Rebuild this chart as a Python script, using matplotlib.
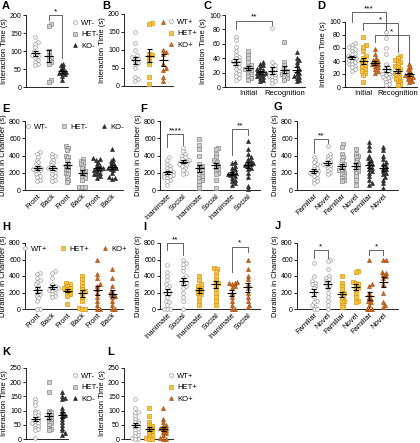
import numpy as np
import matplotlib
matplotlib.use("Agg")
import matplotlib.pyplot as plt
from matplotlib.lines import Line2D

plt.rcParams['font.family'] = ['Liberation Sans', 'DejaVu Sans']

W, H = 420, 443

# ---- data ----
a_wt = [140, 125, 120, 110, 100, 95, 90, 88, 85, 80, 75, 70, 65, 60]
a_het = [175, 170, 100, 85, 80, 75, 70, 65, 20, 15]
a_ko = [65, 60, 55, 50, 45, 42, 40, 38, 35, 30, 20]

b_wt = [150, 120, 100, 85, 80, 78, 75, 70, 65, 60, 50, 25, 20, 15]
b_het = [175, 172, 90, 85, 80, 70, 60, 25, 5]
b_ko = [178, 100, 95, 90, 60, 50, 45, 25, 15]

c_groups = ['WT-', 'HET-', 'KO-', 'WT-', 'HET-', 'KO-']
c_vals = [
    [70, 65, 55, 50, 45, 42, 40, 38, 36, 35, 33, 30, 28, 25, 22, 20, 18, 15, 12, 10],
    [50, 45, 40, 35, 30, 28, 26, 25, 24, 22, 20, 18, 15, 12, 10],
    [35, 32, 30, 28, 25, 23, 22, 20, 20, 18, 17, 15, 14, 12, 10, 8],
    [82, 35, 30, 28, 25, 22, 20, 18, 17, 15, 14, 12, 10, 8, 6],
    [62, 35, 30, 25, 22, 20, 18, 17, 15, 12, 10],
    [48, 40, 38, 35, 30, 25, 22, 20, 18, 15, 14, 12, 10, 8],
]

d_groups = ['WT+', 'HET+', 'KO+', 'WT+', 'HET+', 'KO+']
d_vals = [
    [68, 65, 62, 60, 58, 55, 52, 50, 48, 46, 45, 44, 42, 40, 38, 36, 35, 33, 30, 28, 25],
    [77, 65, 62, 55, 48, 45, 40, 38, 35, 33, 30, 28, 25, 22, 18, 8],
    [58, 50, 45, 42, 40, 38, 36, 35, 33, 30, 28, 25, 22],
    [85, 75, 60, 50, 35, 30, 28, 25, 23, 22, 20, 20, 18, 16, 15, 14, 12, 10, 8, 5, 3],
    [48, 45, 42, 40, 38, 35, 32, 30, 28, 25, 22, 20, 18, 15, 12, 10, 8, 5, 3],
    [35, 30, 28, 25, 22, 20, 18, 17, 15, 14, 12, 10, 8],
]

minus_groups = ['WT-', 'WT-', 'HET-', 'HET-', 'KO-', 'KO-']
plus_groups = ['WT+', 'WT+', 'HET+', 'HET+', 'KO+', 'KO+']
fb_labels = ['Front', 'Back', 'Front', 'Back', 'Front', 'Back']
is_labels = ['Inanimate', 'Social', 'Inanimate', 'Social', 'Inanimate', 'Social']
fn_labels = ['Familiar', 'Novel', 'Familiar', 'Novel', 'Familiar', 'Novel']

e_vals = [
    [440, 420, 380, 350, 320, 300, 280, 260, 250, 240, 230, 220, 200, 180, 160, 150, 120, 100],
    [420, 400, 380, 350, 330, 310, 290, 270, 260, 250, 240, 220, 200, 180, 160, 140, 120, 100],
    [510, 490, 460, 400, 380, 350, 300, 280, 260, 240, 220, 200, 180, 150, 120, 90],
    [360, 340, 320, 300, 280, 250, 220, 200, 180, 160, 140, 120, 40, 30, 30],
    [370, 360, 350, 330, 300, 280, 260, 250, 240, 230, 220, 200, 190, 180, 160, 140],
    [480, 360, 340, 320, 300, 280, 270, 260, 250, 240, 230, 200, 150, 140, 130],
]
f_vals = [
    [380, 350, 300, 280, 260, 240, 220, 210, 200, 190, 180, 170, 160, 150, 140, 120, 100, 60],
    [490, 450, 420, 400, 380, 360, 350, 340, 330, 320, 310, 300, 290, 280, 260, 230, 200, 180],
    [590, 520, 480, 400, 300, 280, 260, 240, 220, 200, 180, 160, 140, 120, 100, 60, 20],
    [490, 480, 420, 380, 350, 330, 300, 280, 260, 240, 220, 200, 180, 120, 20],
    [330, 310, 280, 260, 240, 220, 200, 190, 180, 170, 160, 140, 120, 100, 80, 60],
    [570, 480, 420, 380, 360, 340, 320, 310, 300, 290, 280, 260, 240, 200, 150, 50, 10],
]
g_vals = [
    [380, 350, 320, 300, 280, 260, 240, 220, 210, 200, 190, 180, 160, 140, 120, 100, 80],
    [510, 420, 400, 380, 360, 340, 320, 300, 290, 280, 260, 240, 220, 200, 180],
    [530, 500, 420, 380, 350, 300, 280, 250, 230, 220, 200, 180, 160, 140, 120, 100],
    [470, 420, 400, 380, 350, 320, 300, 280, 260, 240, 220, 200, 160, 120, 60],
    [560, 510, 460, 400, 370, 350, 320, 300, 280, 260, 240, 220, 200, 160, 120, 80, 60],
    [500, 460, 400, 360, 320, 300, 280, 260, 240, 220, 200, 180, 150, 120, 80, 20],
]
h_vals = [
    [440, 420, 380, 350, 330, 300, 280, 250, 220, 200, 180, 160, 130, 100, 0, 0],
    [460, 440, 370, 300, 280, 260, 250, 240, 230, 220, 200, 180, 160, 140],
    [310, 300, 280, 260, 250, 240, 220, 200, 180, 160, 60],
    [400, 360, 320, 280, 240, 220, 200, 150, 100, 10, 0, 0],
    [590, 420, 380, 300, 280, 240, 200, 150, 100, 50, 0, 0],
    [480, 380, 280, 220, 200, 180, 160, 150, 100, 50, 0, 0],
]
i_vals = [
    [530, 450, 400, 350, 300, 280, 250, 220, 200, 180, 150, 100, 80, 50, 0, 0, 0],
    [590, 560, 540, 500, 460, 400, 380, 340, 320, 300, 280, 260, 200, 150, 100, 0],
    [400, 350, 300, 280, 260, 240, 220, 200, 180, 150, 100, 50],
    [500, 490, 460, 400, 350, 320, 300, 260, 200, 150, 100, 50],
    [330, 320, 310, 300, 280, 260, 200, 150, 100, 50, 0, 0],
    [600, 480, 400, 360, 300, 250, 200, 150, 100, 50, 20],
]
j_vals = [
    [560, 400, 340, 320, 300, 280, 250, 200, 150, 100, 80, 50, 30, 0, 0],
    [590, 580, 490, 400, 380, 360, 340, 320, 300, 280, 250, 200, 150, 100, 50, 0],
    [400, 320, 280, 240, 200, 180, 150, 120, 100, 80, 50, 20],
    [460, 450, 330, 320, 300, 280, 250, 240, 200, 150, 100, 80],
    [600, 300, 280, 200, 150, 120, 100, 80, 50, 0, 0, 0],
    [600, 600, 450, 440, 420, 400, 380, 300, 200, 80, 50, 20],
]

k_wt = [140, 130, 120, 100, 95, 90, 85, 80, 75, 70, 65, 60, 58, 55, 50, 45, 40, 35, 30, 5]
k_het = [200, 165, 100, 95, 90, 85, 80, 75, 70, 65, 60, 55, 50, 40, 35, 30]
k_ko = [165, 150, 145, 140, 110, 100, 90, 85, 80, 70, 60, 50, 40, 30, 20, 15]

l_wt = [140, 110, 95, 90, 80, 70, 65, 60, 55, 50, 45, 40, 35, 30, 25, 20, 15, 10, 5, 0, 0]
l_het = [110, 80, 60, 50, 45, 40, 35, 30, 25, 20, 15, 10, 5, 0, 0]
l_ko = [110, 70, 60, 50, 45, 40, 38, 35, 30, 25, 20, 15, 5, 0, 0]

STY = {
    'WT-': ('o', 'white', '#9a9a9a'),
    'HET-': ('s', '#cdcdcd', '#8a8a8a'),
    'KO-': ('^', '#2e2e2e', '#2e2e2e'),
    'WT+': ('o', 'white', '#9a9a9a'),
    'HET+': ('s', '#f6c244', '#d69a16'),
    'KO+': ('^', '#d4691c', '#a3500f'),
}

fig = plt.figure(figsize=(W / 100, H / 100), dpi=100)


def make_ax(l, t, r, b, xlim, ylim, yticks, ylabel):
    ax = fig.add_axes([l / W, 1 - b / H, (r - l) / W, (b - t) / H])
    ax.set_xlim(*xlim)
    ax.set_ylim(*ylim)
    ax.set_yticks(yticks)
    for s in ['top', 'right']:
        ax.spines[s].set_visible(False)
    for s in ['left', 'bottom']:
        ax.spines[s].set_linewidth(0.6)
    ax.tick_params(length=2, width=0.6, labelsize=5, pad=1)
    ax.set_xticks([])
    ax.set_ylabel(ylabel, fontsize=5.5, labelpad=1.5)
    sx = (r - l) / (xlim[1] - xlim[0])
    sy = (b - t) / (ylim[1] - ylim[0])
    return ax, sx, sy


def swarm(v, xu, yu, kmax=4):
    order = np.argsort(v)
    off = np.zeros(len(v))
    placed = []
    steps = [0]
    for k in range(1, kmax + 1):
        steps += [k, -k]
    for i in order:
        best = None
        for k in steps:
            x = k * 0.5 * xu
            if all(((x - px) / xu) ** 2 + ((v[i] - py) / yu) ** 2 >= 1 for px, py in placed):
                best = x
                break
        if best is None:
            best = steps[len(placed) % len(steps)] * 0.5 * xu
        off[i] = best
        placed.append((best, v[i]))
    return off


def group(ax, x, vals, key, sx, sy):
    v = np.array(vals, float)
    off = swarm(v, 2.8 / sx, 2.8 / sy)
    mk, fc, ec = STY[key]
    ax.scatter(x + off, v, s=8 if mk == '^' else 7, marker=mk, facecolors=fc,
               edgecolors=ec, linewidths=0.5, zorder=3, clip_on=False)
    m = v.mean()
    se = v.std(ddof=1) / np.sqrt(len(v))
    hw, cw = 4.5 / sx, 2.5 / sx
    kw = dict(color='black', lw=0.8, zorder=5, solid_capstyle='butt')
    ax.plot([x - hw, x + hw], [m, m], **kw)
    ax.plot([x, x], [m - se, m + se], **kw)
    ax.plot([x - cw, x + cw], [m + se, m + se], **kw)
    ax.plot([x - cw, x + cw], [m - se, m - se], **kw)


def bracket(ax, x1, x2, ytop, y1, y2, txt):
    ax.plot([x1, x1, x2, x2], [y1, ytop, ytop, y2], color='#4a4a4a', lw=0.6,
            clip_on=False, zorder=6)
    ax.text((x1 + x2) / 2, ytop, txt, ha='center', va='bottom', fontsize=6)


def handles(keys):
    hs = []
    for k in keys:
        mk, fc, ec = STY[k]
        hs.append(Line2D([], [], marker=mk, ls='none', mfc=fc, mec=ec, ms=2.8, mew=0.5, label=k))
    return hs


def side_legend(ax, keys, xa=0.98):
    ax.legend(handles=handles(keys), loc='upper left', bbox_to_anchor=(xa, 1.0),
              frameon=False, fontsize=5.5, labelspacing=0.55, handletextpad=0.3,
              handlelength=0.9, borderaxespad=0.2)


def top_legend(ax, keys):
    ax.legend(handles=handles(keys), loc='upper center', bbox_to_anchor=(0.5, 1.02),
              ncol=3, frameon=False, fontsize=5.5, handletextpad=0.3,
              columnspacing=1.6, handlelength=1.0, borderaxespad=0.1)


def panel_label(x, y, s):
    fig.text(x / W, 1 - y / H, s, ha='left', va='top', fontsize=8, fontweight='bold')


IT = 'Interaction Time (s)'
DC = 'Duration in Chamber (s)'

# ---- A ----
ax, sx, sy = make_ax(26, 15, 68, 87, (0.33, 3.44), (0, 200), [0, 50, 100, 150, 200], IT)
for i, (vals, k) in enumerate(zip([a_wt, a_het, a_ko], ['WT-', 'HET-', 'KO-'])):
    group(ax, i + 1, vals, k, sx, sy)
bracket(ax, 2, 3, 200, 185, 80, '*')
side_legend(ax, ['WT-', 'HET-', 'KO-'])

# ---- B ----
ax, sx, sy = make_ax(124, 14, 173, 86, (0.2, 3.7), (0, 200), [0, 50, 100, 150, 200], IT)
for i, (vals, k) in enumerate(zip([b_wt, b_het, b_ko], ['WT+', 'HET+', 'KO+'])):
    group(ax, i + 1, vals, k, sx, sy)
side_legend(ax, ['WT+', 'HET+', 'KO+'], xa=0.8)

# ---- C ----
ax, sx, sy = make_ax(225, 15, 305, 87, (0.1, 6.7), (0, 100), [0, 20, 40, 60, 80, 100], IT)
for i, (vals, k) in enumerate(zip(c_vals, c_groups)):
    group(ax, i + 1, vals, k, sx, sy)
bracket(ax, 1, 4, 92, 80, 86, '**')
ax.set_xticks([2, 5], ['Initial', 'Recognition'])
ax.tick_params(axis='x', length=0, labelsize=5.5, pad=2)

# ---- D ----
ax, sx, sy = make_ax(345, 22, 417, 87, (0.4, 6.7), (0, 100), [0, 20, 40, 60, 80, 100], IT)
for i, (vals, k) in enumerate(zip(d_vals, d_groups)):
    group(ax, i + 1, vals, k, sx, sy)
bracket(ax, 1, 4, 115, 100, 88, '***')
bracket(ax, 2, 5, 98, 88, 54, '*')
bracket(ax, 3, 6, 80, 69, 37, '*')
ax.set_xticks([2, 5], ['Initial', 'Recognition'])
ax.tick_params(axis='x', length=0, labelsize=5.5, pad=2)


def six(l, r, t, b, xlim, vals, keys, labels):
    ax, sx, sy = make_ax(l, t, r, b, xlim, (0, 800), [0, 200, 400, 600, 800], DC)
    for i, (v, k) in enumerate(zip(vals, keys)):
        group(ax, i + 1, v, k, sx, sy)
    ax.set_xticks(range(1, 7), labels, rotation=45, ha='right', rotation_mode='anchor')
    ax.tick_params(axis='x', length=0, labelsize=5.5, pad=2)
    return ax


# ---- row 2 ----
ax = six(25, 123, 121, 190, (0.2, 6.73), e_vals, minus_groups, fb_labels)
top_legend(ax, ['WT-', 'HET-', 'KO-'])
ax = six(160, 260, 121, 190, (0.56, 6.75), f_vals, minus_groups, is_labels)
bracket(ax, 1, 2, 650, 500, 520, '****')
bracket(ax, 5, 6, 705, 410, 640, '**')
ax = six(297, 398, 121, 190, (-0.2, 7.05), g_vals, minus_groups, fn_labels)
bracket(ax, 1, 2, 590, 430, 540, '**')

# ---- row 3 ----
ax = six(25, 123, 243, 309, (0.2, 6.73), h_vals, plus_groups, fb_labels)
top_legend(ax, ['WT+', 'HET+', 'KO+'])
ax = six(160, 260, 243, 309, (0.56, 6.75), i_vals, plus_groups, is_labels)
bracket(ax, 1, 2, 800, 715, 660, '**')
bracket(ax, 5, 6, 755, 450, 690, '*')
ax = six(297, 398, 243, 309, (-0.2, 7.05), j_vals, plus_groups, fn_labels)
bracket(ax, 1, 2, 715, 615, 615, '*')
bracket(ax, 5, 6, 715, 650, 650, '*')

# ---- K ----
ax, sx, sy = make_ax(26, 368, 68, 439, (0.33, 3.44), (0, 250), [0, 50, 100, 150, 200, 250], IT)
for i, (vals, k) in enumerate(zip([k_wt, k_het, k_ko], ['WT-', 'HET-', 'KO-'])):
    group(ax, i + 1, vals, k, sx, sy)
side_legend(ax, ['WT-', 'HET-', 'KO-'])

# ---- L ----
ax, sx, sy = make_ax(124, 368, 173, 439, (0.2, 3.7), (0, 250), [0, 50, 100, 150, 200, 250], IT)
for i, (vals, k) in enumerate(zip([l_wt, l_het, l_ko], ['WT+', 'HET+', 'KO+'])):
    group(ax, i + 1, vals, k, sx, sy)
side_legend(ax, ['WT+', 'HET+', 'KO+'], xa=0.8)

for x, y, s in [(2, 1, 'A'), (102, 1, 'B'), (203, 1, 'C'), (317, 1, 'D'),
                (2, 104, 'E'), (140, 104, 'F'), (273, 102, 'G'),
                (2, 222, 'H'), (143, 222, 'I'), (275, 221, 'J'),
                (2, 347, 'K'), (107, 347, 'L')]:
    panel_label(x, y, s)

fig.savefig('out.png', dpi=100)
